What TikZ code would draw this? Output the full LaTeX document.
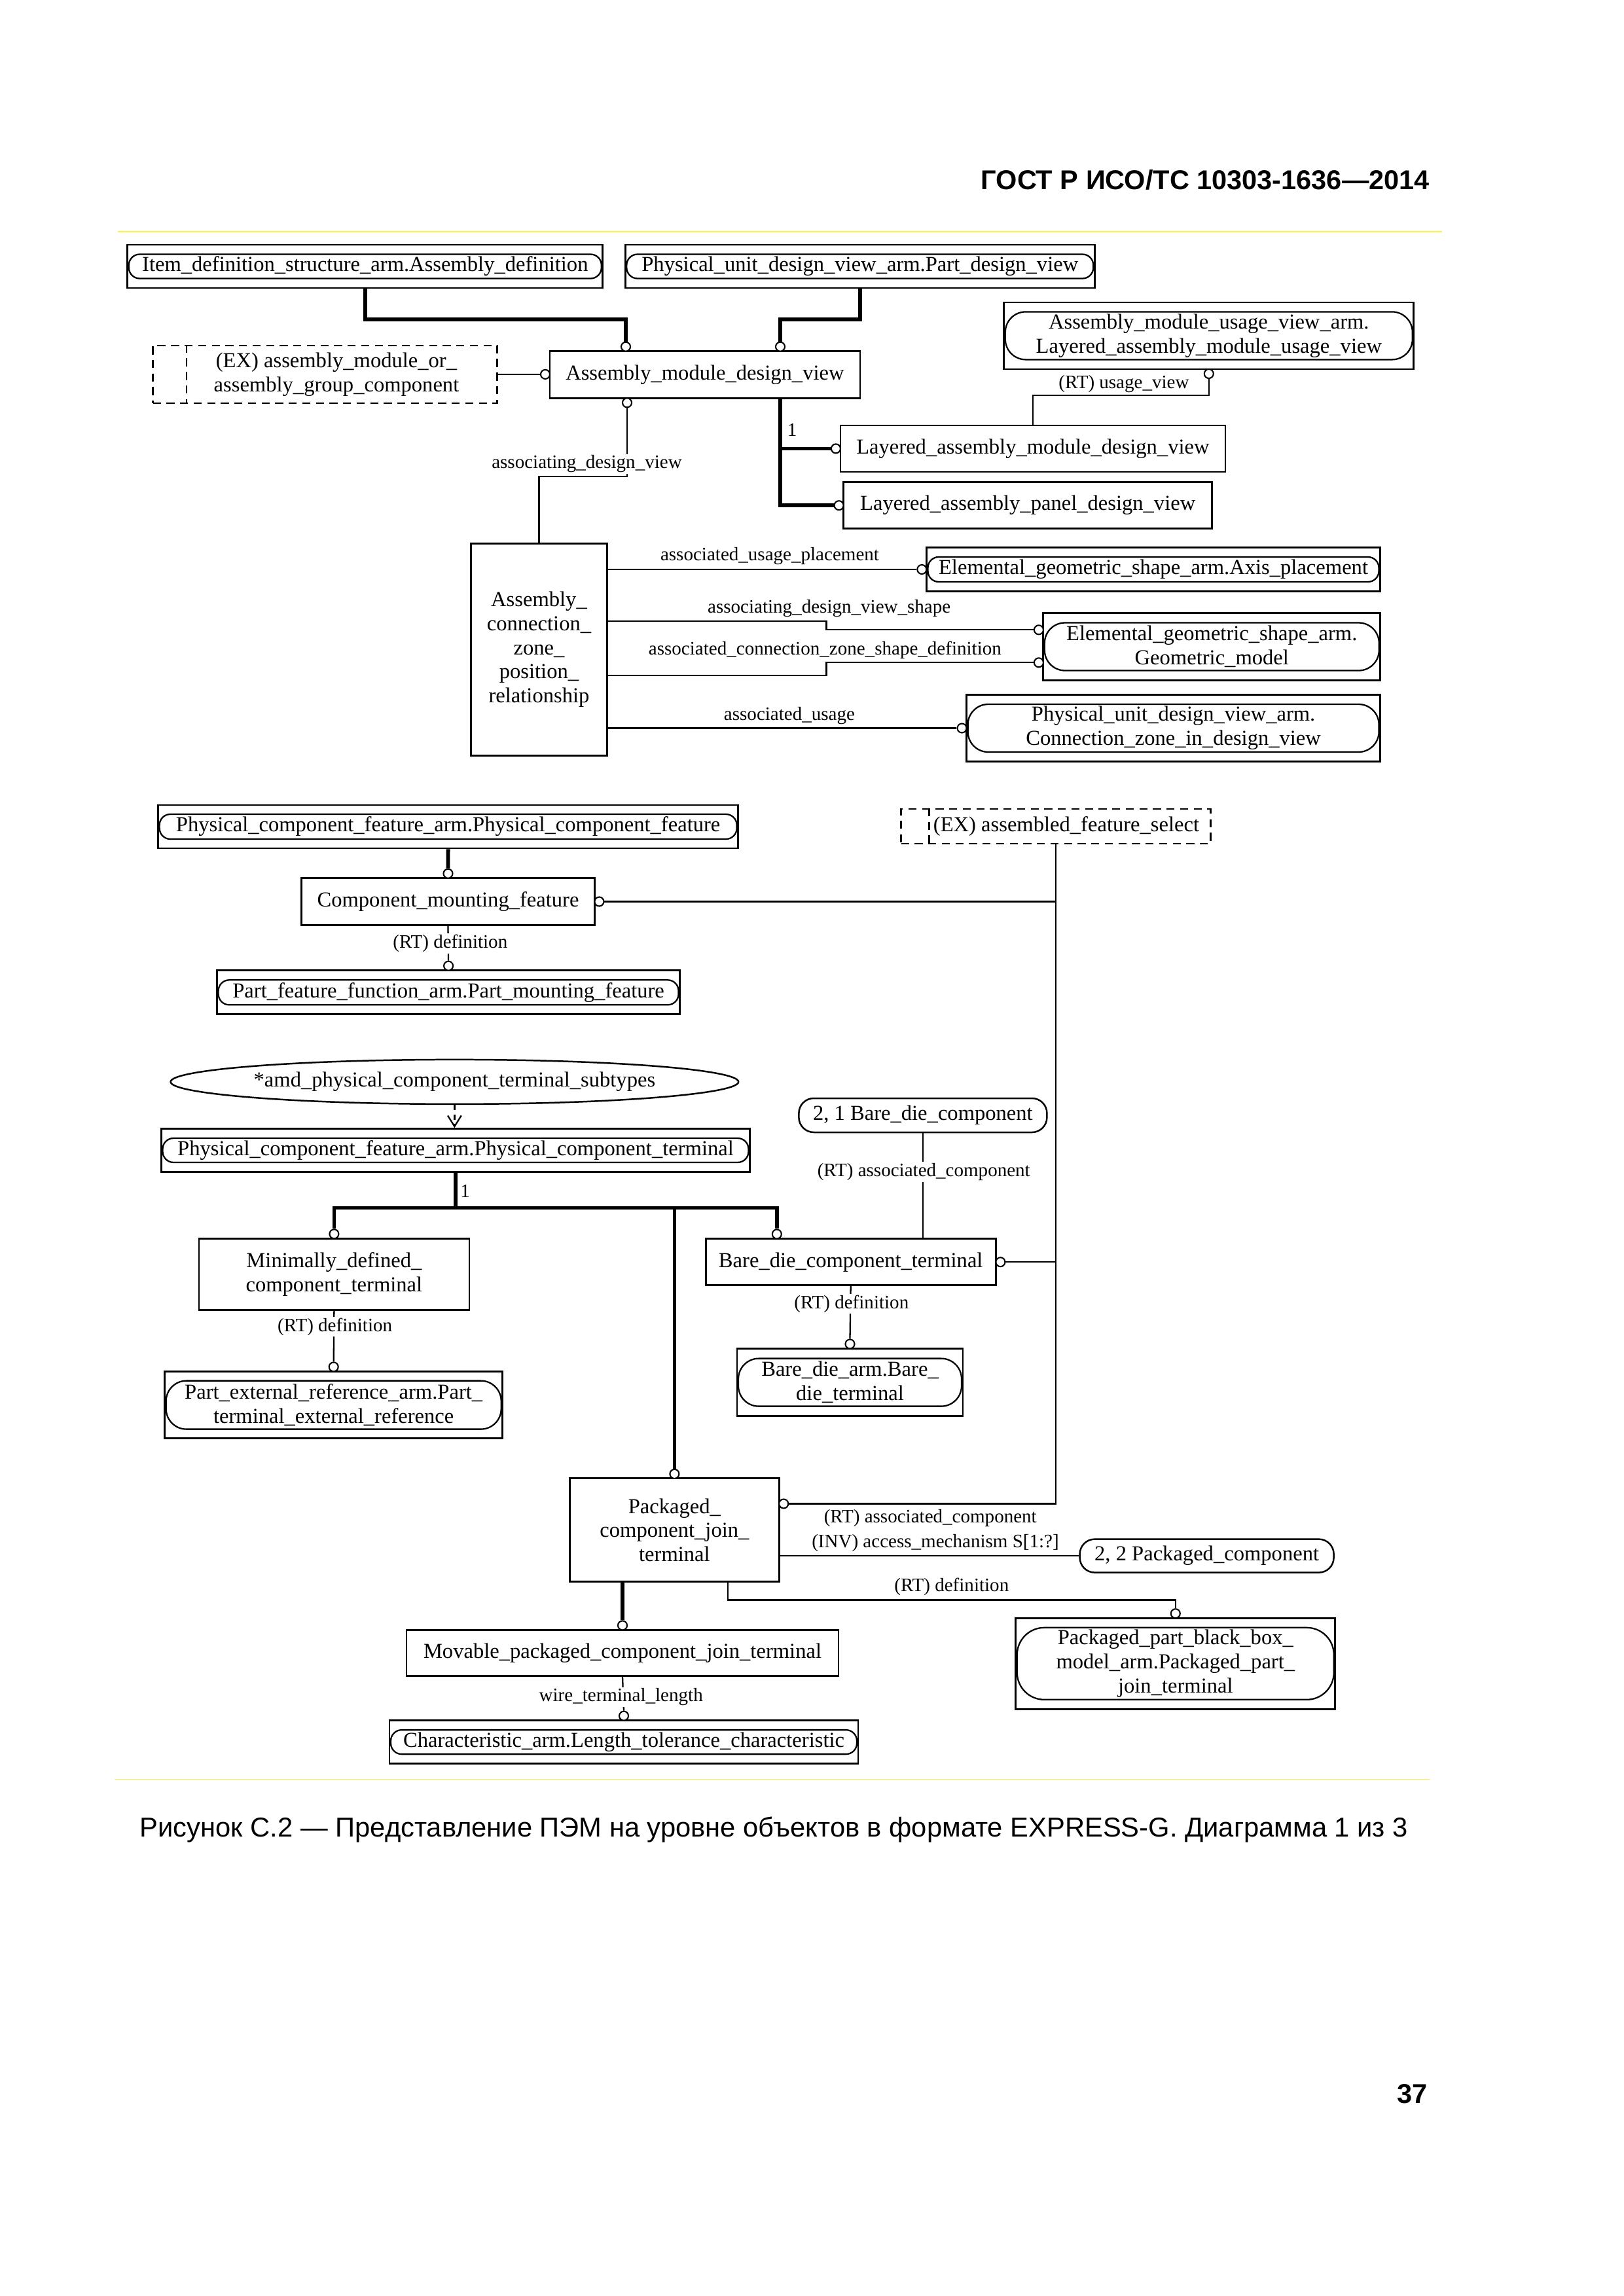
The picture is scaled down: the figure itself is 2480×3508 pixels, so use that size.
\documentclass[tikz,border=0pt]{standalone}
\usepackage{fontspec}
\setmainfont{Liberation Serif}
\newfontfamily\sansfont{Liberation Sans}
\usepackage{xcolor}
\usetikzlibrary{shapes.geometric,arrows.meta}
\newcommand{\pxl}{0.0084677cm}
\newcommand{\diagfont}{\fontsize{7.85pt}{8.9pt}\selectfont}
\newcommand{\lblfont}{\fontsize{7pt}{8pt}\selectfont}
\newcommand{\headfont}{\sansfont\bfseries\fontsize{10pt}{12pt}\selectfont}
\newcommand{\capfont}{\sansfont\fontsize{10.05pt}{12pt}\selectfont}
\definecolor{rulecol}{RGB}{250,245,70}
\tikzset{
ent/.style={draw, rectangle, line width=0.65pt, inner sep=0pt, align=center},
refin/.style={draw, rectangle, line width=0.55pt, rounded corners=4pt, inner sep=0pt, align=center},
refin2/.style={refin, rounded corners=7.5pt},
exbox/.style={draw, rectangle, line width=0.6pt, dash pattern=on 3pt off 2pt, inner sep=0pt},
exline/.style={line width=0.6pt, dash pattern=on 3pt off 2pt},
pagebox/.style={draw, rectangle, line width=0.6pt, rounded corners=5.5pt, inner sep=0pt},
ring/.style={draw, circle, fill=white, line width=0.5pt, inner sep=0pt, minimum size=14*\pxl},
attr/.style={line width=0.55pt},
sub/.style={line width=1.4pt},
lbl/.style={fill=white, inner sep=0.5pt, font=\lblfont},
rule/.style={draw=rulecol, line width=0.4pt},
}
\begin{document}
\begin{tikzpicture}[x=\pxl, y=-\pxl, font=\diagfont]
\useasboundingbox (0,0) rectangle (2480,3508);
% page head and rules
\node[font=\headfont, anchor=base east, inner sep=0pt] (head) at (2184.7,289.3) {ГОСТ Р ИСО/ТС 10303-1636—2014};
\draw[rule] (180,354) -- (2203,354);
\draw[rule] (175,2718.3) -- (2184.5,2718.3);
\node[font=\capfont, anchor=base west, inner sep=0pt] (caption) at (213,2806.7) {Рисунок С.2 — Представление ПЭМ на уровне объектов в формате EXPRESS-G. Диаграмма 1 из 3};
\node[font=\headfont, anchor=base east, inner sep=0pt] (pageno) at (2181.7,3213.3) {37};

% upper part
\node[ent, minimum width=726*\pxl, minimum height=66*\pxl] (item) at (557.8,407) {};
\node[refin, minimum width=722*\pxl, minimum height=37*\pxl] (item-in) at (item.center) {Item\_definition\_structure\_arm.Assembly\_definition};
\node[ent, minimum width=717*\pxl, minimum height=66*\pxl] (phys) at (1313.8,407) {};
\node[refin, minimum width=713*\pxl, minimum height=37*\pxl] (phys-in) at (phys.center) {Physical\_unit\_design\_view\_arm.Part\_design\_view};
\node[ent, minimum width=474*\pxl, minimum height=72*\pxl] (amdv) at (1076.9,572.5) {Assembly\_module\_design\_view};
\node[exbox, minimum width=526*\pxl, minimum height=88*\pxl] (exsel1) at (496.5,571.9) {};
\draw[exline] ([xshift=52.8*\pxl]exsel1.north west) -- ([xshift=52.8*\pxl]exsel1.south west);
\node[align=center] (exsel1-t) at (514,571.9) {(EX) assembly\_module\_or\_\\assembly\_group\_component};
\node[ent, minimum width=626*\pxl, minimum height=102*\pxl] (amuv) at (1846.8,512.9) {};
\node[refin2, minimum width=622*\pxl, minimum height=73*\pxl] (amuv-in) at (amuv.center) {Assembly\_module\_usage\_view\_arm.\\Layered\_assembly\_module\_usage\_view};
\node[ent, minimum width=588*\pxl, minimum height=71*\pxl] (lamdv) at (1577.9,685.4) {Layered\_assembly\_module\_design\_view};
\node[ent, minimum width=563*\pxl, minimum height=71*\pxl] (lapdv) at (1570.2,772.2) {Layered\_assembly\_panel\_design\_view};
\node[ent, minimum width=208*\pxl, minimum height=324*\pxl] (aczpr) at (823.5,992.2) {Assembly\_\\connection\_\\zone\_\\position\_\\relationship};
\node[ent, minimum width=693*\pxl, minimum height=67*\pxl] (axisp) at (1762,870) {};
\node[refin, minimum width=689*\pxl, minimum height=38*\pxl] (axisp-in) at (axisp.center) {Elemental\_geometric\_shape\_arm.Axis\_placement};
\node[ent, minimum width=515*\pxl, minimum height=103*\pxl] (geom) at (1851.3,988) {};
\node[refin2, minimum width=511*\pxl, minimum height=73*\pxl] (geom-in) at (geom.center) {Elemental\_geometric\_shape\_arm.\\Geometric\_model};
\node[ent, minimum width=632*\pxl, minimum height=102*\pxl] (czdv) at (1792.6,1112.5) {};
\node[refin2, minimum width=628*\pxl, minimum height=73*\pxl] (czdv-in) at (czdv.center) {Physical\_unit\_design\_view\_arm.\\Connection\_zone\_in\_design\_view};

% middle part
\node[ent, minimum width=886*\pxl, minimum height=66*\pxl] (pcf) at (684.6,1263) {};
\node[refin, minimum width=882*\pxl, minimum height=38*\pxl] (pcf-in) at (pcf.center) {Physical\_component\_feature\_arm.Physical\_component\_feature};
\node[exbox, minimum width=473*\pxl, minimum height=53*\pxl] (exsel2) at (1613,1262.5) {};
\draw[exline] ([xshift=44.4*\pxl]exsel2.north west) -- ([xshift=44.4*\pxl]exsel2.south west);
\node (exsel2-t) at (1629,1262.5) {(EX) assembled\_feature\_select};
\node[ent, minimum width=448*\pxl, minimum height=72*\pxl] (cmf) at (684.5,1377.5) {Component\_mounting\_feature};
\node[ent, minimum width=707*\pxl, minimum height=67*\pxl] (pff) at (685.1,1516.3) {};
\node[refin, minimum width=703*\pxl, minimum height=38*\pxl] (pff-in) at (pff.center) {Part\_feature\_function\_arm.Part\_mounting\_feature};

% lower part
\node[draw, ellipse, line width=0.6pt, inner sep=0pt, minimum width=864*\pxl, minimum height=68*\pxl] (subtypes) at (694.4,1652.9) {*amd\_physical\_component\_terminal\_subtypes};
\node[ent, minimum width=899*\pxl, minimum height=66*\pxl] (pct) at (696,1757.5) {};
\node[refin, minimum width=895*\pxl, minimum height=37*\pxl] (pct-in) at (pct.center) {Physical\_component\_feature\_arm.Physical\_component\_terminal};
\node[ent, minimum width=413*\pxl, minimum height=109*\pxl] (mdct) at (510.4,1946.8) {Minimally\_defined\_\\component\_terminal};
\node[ent, minimum width=516*\pxl, minimum height=102*\pxl] (per) at (509.7,2146.6) {};
\node[refin2, minimum width=512*\pxl, minimum height=74*\pxl] (per-in) at (per.center) {Part\_external\_reference\_arm.Part\_\\terminal\_external\_reference};
\node[pagebox, minimum width=379*\pxl, minimum height=52*\pxl] (bdc) at (1409.9,1704) {2, 1 Bare\_die\_component};
\node[ent, minimum width=443*\pxl, minimum height=71*\pxl] (bdct) at (1299.7,1928.2) {Bare\_die\_component\_terminal};
\node[ent, minimum width=345*\pxl, minimum height=103*\pxl] (bdt) at (1298.5,2112.1) {};
\node[refin2, minimum width=341*\pxl, minimum height=73*\pxl] (bdt-in) at (bdt.center) {Bare\_die\_arm.Bare\_\\die\_terminal};
\node[ent, minimum width=320*\pxl, minimum height=158*\pxl] (pcjt) at (1030.4,2337.8) {Packaged\_\\component\_join\_\\terminal};
\node[pagebox, minimum width=388*\pxl, minimum height=51*\pxl] (pc) at (1843.6,2377.1) {2, 2 Packaged\_component};
\node[ent, minimum width=488*\pxl, minimum height=139*\pxl] (ppbbm) at (1795.8,2541.8) {};
\node[refin, rounded corners=10pt, minimum width=484*\pxl, minimum height=110*\pxl] (ppbbm-in) at (ppbbm.center) {Packaged\_part\_black\_box\_\\model\_arm.Packaged\_part\_\\join\_terminal};
\node[ent, minimum width=660*\pxl, minimum height=70*\pxl] (mpcjt) at (951,2525.5) {Movable\_packaged\_component\_join\_terminal};
\node[ent, minimum width=716*\pxl, minimum height=66*\pxl] (caltc) at (953,2661.6) {};
\node[refin, minimum width=712*\pxl, minimum height=37*\pxl] (caltc-in) at (caltc.center) {Characteristic\_arm.Length\_tolerance\_characteristic};

% the circles
\foreach \n/\x/\y in {citem/956/529.7, cphys/1192/529.7, cex/833/571.9, cadv/958/615.3,
  clamdv/1276.9/685.4, clapdv/1281.6/772.2, cusage/1846.8/571, caxis/1408.3/870,
  cgeo1/1586.9/962.3, cgeo2/1586.9/1012.3, cczdv/1469.5/1112.5, ccmf/684.5/1334.7,
  ccmfsel/915.4/1377.5, cpff/685.1/1475.7, cmdct/510.4/1885.3, cper/509.7/2088.4,
  cbdct/1186.8/1885.5, cbdctsel/1528.4/1928.2, cbdt/1298.5/2053.4, cpcjt/1030.4/2251.9,
  cpcjtsel/1197.2/2297.5, cppbbm/1795.8/2465.2, cmpcjt/951/2483.4, ccaltc/953/2621.6}
  \node[ring] (\n) at (\x,\y) {};

% the connectors
\draw[sub] (item.south) -- ++(0,46.7) -| (citem.north);
\draw[sub] (phys.south) -- ++(0,46.7) -| (cphys.north);
\draw[attr] (exsel1.east) -- (cex.west);
\draw[attr] (cadv.south) -- ++(0,105) -| (aczpr.north);
\draw[sub] (amdv.south -| cphys.south) |- (clapdv.west);
\draw[sub] (clamdv.west) -- (clamdv.west -| cphys.south);
\draw[attr] (lamdv.north) -- ++(0,-44.3) -| (cusage.south);
\draw[attr] (aczpr.east |- caxis.west) -- (caxis.west);
\draw[attr] ([yshift=42.9*\pxl]aczpr.east) -- ++(333.6,0) |- (cgeo1.west);
\draw[attr] ([yshift=-40.1*\pxl]aczpr.east) -- ++(333.6,0) |- (cgeo2.west);
\draw[attr] (aczpr.east |- cczdv.west) -- (cczdv.west);
\draw[sub] (pcf.south) -- (ccmf.north);
\draw[attr] (exsel2.south) |- (cpcjtsel.east);
\draw[attr] (ccmfsel.east) -- (ccmfsel.east -| exsel2.south);
\draw[attr] (cbdctsel.east) -- (cbdctsel.east -| exsel2.south);
\draw[attr] (cmf.south) -- (cpff.north);
\draw[attr, dash pattern=on 2pt off 1.5pt, -{Straight Barb[length=4pt,width=5pt]}] (subtypes.south) -- (subtypes.south |- pct.north);
\coordinate (bus) at (696,1845.4);
\draw[sub] (pct.south) -- (bus);
\draw[sub] (cmdct.north) |- (bus) -| (cbdct.north);
\draw[sub] (cpcjt.north) -- (cpcjt.north |- bus);
\draw[attr] (mdct.south) -- (cper.north);
\draw[attr] (bdc.south) -- (bdc.south |- bdct.north);
\draw[attr] (bdct.south) -- (cbdt.north);
\draw[attr] (pcjt.east |- pc.west) -- (pc.west);
\draw[attr] ([xshift=81.4*\pxl]pcjt.south) -- ++(0,26.2) -| (cppbbm.north);
\draw[sub] (pcjt.south -| cmpcjt.north) -- (cmpcjt.north);
\draw[attr] (mpcjt.south) -- (ccaltc.north);

% the labels
\node[lbl] (l-usage) at (1717,586.7) {(RT) usage\_view};
\node[font=\lblfont] (l-one1) at (1210,657) {1};
\node[lbl] (l-adv) at (896.5,709) {associating\_design\_view};
\node[lbl] (l-aup) at (1176,850) {associated\_usage\_placement};
\node[lbl] (l-advs) at (1266.7,930) {associating\_design\_view\_shape};
\node[lbl] (l-aczsd) at (1260.4,993.3) {associated\_connection\_zone\_shape\_definition};
\node[lbl] (l-au) at (1206,1093.3) {associated\_usage};
\node[lbl] (l-def1) at (687.8,1441.7) {(RT) definition};
\node[font=\lblfont] (l-one2) at (710.7,1819.7) {1};
\node[lbl] (l-def2) at (511.7,2027) {(RT) definition};
\node[lbl] (l-ac1) at (1411.3,1790.3) {(RT) associated\_component};
\node[lbl] (l-def3) at (1300.8,1992) {(RT) definition};
\node[lbl] (l-ac2) at (1421.3,2319.3) {(RT) associated\_component};
\node[lbl] (l-inv) at (1429,2357.8) {(INV) access\_mechanism S[1:?]};
\node[lbl] (l-def4) at (1453.8,2424.5) {(RT) definition};
\node[lbl] (l-wire) at (948.7,2592.8) {wire\_terminal\_length};
\end{tikzpicture}
\end{document}
